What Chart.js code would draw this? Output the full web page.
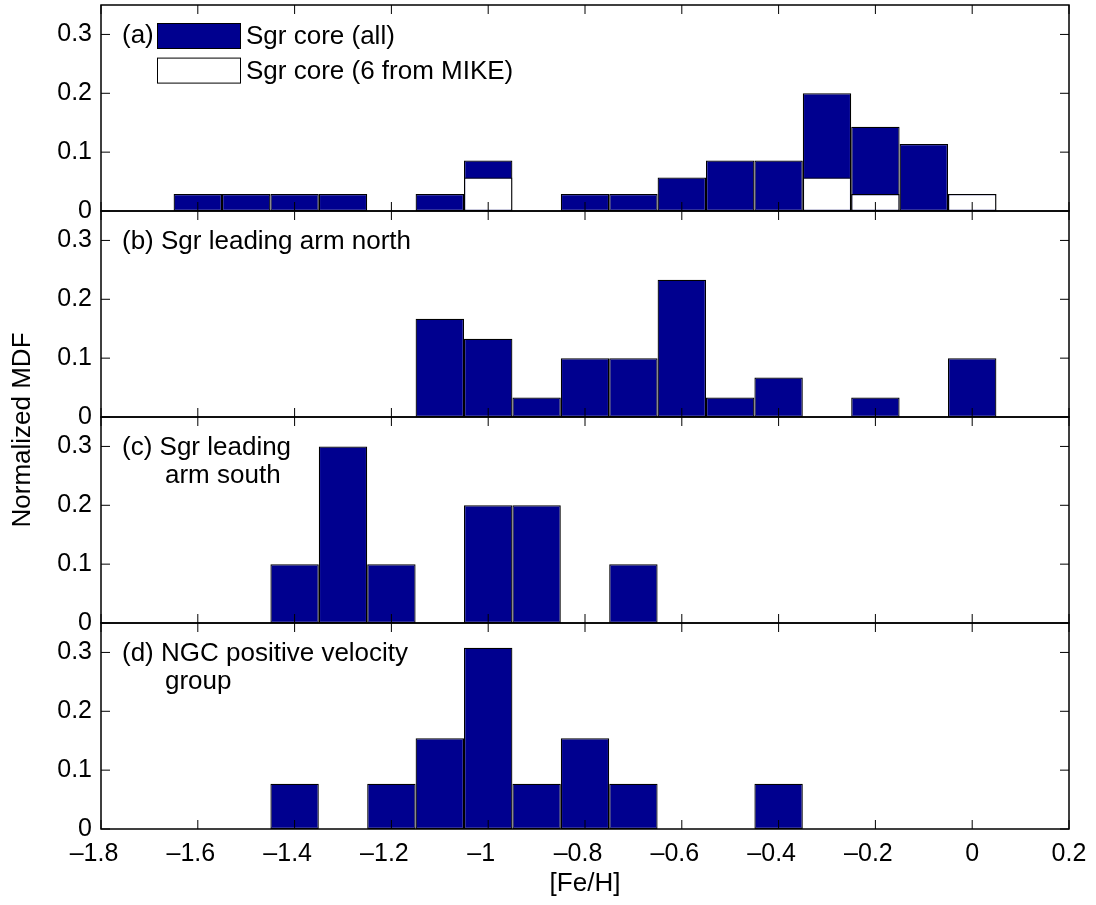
<!DOCTYPE html>
<html>
<head>
<meta charset="utf-8">
<script src="https://cdn.jsdelivr.net/npm/chart.js@4.4.1/dist/chart.umd.min.js"></script>
<style>
  html, body { margin: 0; padding: 0; background: #fff; }
  #wrap { width: 1096px; height: 905px; position: relative; }
</style>
</head>
<body>
<div id="wrap"><canvas id="mdfChart"></canvas></div>
<script>
// bin centres of the [Fe/H] histograms (bins are 0.1 dex wide)
var binCenters = [-1.6, -1.5, -1.4, -1.3, -1.2, -1.1, -1.0, -0.9, -0.8, -0.7, -0.6, -0.5, -0.4, -0.3, -0.2, -0.1, 0.0];

// normalized MDF, one value per bin (null = empty bin)
var coreAll   = [0.029, 0.029, 0.029, 0.029, null, 0.029, 0.086, null, 0.029, 0.029, 0.057, 0.086, 0.086, 0.200, 0.143, 0.114, 0.029];
var coreMike  = [null, null, null, null, null, null, 0.057, null, null, null, null, null, null, 0.057, 0.029, null, 0.029];
var leadNorth = [null, null, null, null, null, 0.167, 0.133, 0.033, 0.100, 0.100, 0.233, 0.033, 0.067, null, 0.033, null, 0.100];
var leadSouth = [null, null, 0.1, 0.3, 0.1, null, 0.2, 0.2, null, 0.1, null, null, null, null, null, null, null];
var ngcPos    = [null, null, 0.077, null, 0.077, 0.154, 0.308, 0.077, 0.154, 0.077, null, null, 0.077, null, null, null, null];

var xTickValues = [-1.8, -1.6, -1.4, -1.2, -1.0, -0.8, -0.6, -0.4, -0.2, 0.0, 0.2];
var yTickValues = [0, 0.1, 0.2, 0.3];

var panelIds = ['yA', 'yB', 'yC', 'yD'];
var panelLabels = [
  ['(a)'],
  ['(b) Sgr leading arm north'],
  ['(c) Sgr leading', 'arm south'],
  ['(d) NGC positive velocity', 'group']
];

var navy = 'rgb(0,0,143)';
var fontFamily = '"Liberation Sans", Arial, Helvetica, sans-serif';

function toPoints(values) {
  return binCenters.map(function (c, i) { return { x: c, y: values[i] }; });
}

function barSet(label, values, axis, color, order) {
  return {
    label: label,
    data: toPoints(values),
    yAxisID: axis,
    backgroundColor: color,
    borderColor: '#000',
    borderWidth: 1.25,
    borderSkipped: false,
    inflateAmount: 0,
    grouped: false,
    categoryPercentage: 1,
    barPercentage: 1,
    order: order
  };
}

function panelAxis(weight) {
  return {
    type: 'linear',
    position: 'left',
    stack: 'panels',
    stackWeight: 1,
    weight: weight,
    min: 0,
    max: 0.35,
    grid: { display: false, drawTicks: false },
    border: { display: false },
    ticks: {
      color: '#000',
      padding: 9,
      font: { family: fontFamily, size: 25 },
      callback: function (v) { return v === 0 ? '0' : v.toFixed(1); }
    },
    afterBuildTicks: function (s) {
      s.ticks = yTickValues.map(function (v) { return { value: v }; });
    },
    afterFit: function (s) {
      s.width = 101;
      s.paddingTop = 0;
      s.paddingBottom = 0;
    }
  };
}

var framePlugin = {
  id: 'frame',
  afterDatasetsDraw: function (chart) {
    var ctx = chart.ctx;
    var area = chart.chartArea;
    var xs = chart.scales.x;
    ctx.save();
    ctx.strokeStyle = '#000';
    ctx.fillStyle = '#000';

    panelIds.forEach(function (id, p) {
      var ys = chart.scales[id];
      ctx.lineWidth = 1;
      ctx.beginPath();
      yTickValues.forEach(function (v) {
        var py = ys.getPixelForValue(v);
        ctx.moveTo(area.left, py); ctx.lineTo(area.left + 9, py);
        ctx.moveTo(area.right, py); ctx.lineTo(area.right - 9, py);
      });
      xTickValues.forEach(function (v) {
        var px = xs.getPixelForValue(v);
        ctx.moveTo(px, ys.bottom); ctx.lineTo(px, ys.bottom - 9);
        ctx.moveTo(px, ys.top); ctx.lineTo(px, ys.top + 9);
      });
      ctx.stroke();
      ctx.lineWidth = 1.5;
      ctx.strokeRect(area.left, ys.top, area.right - area.left, ys.bottom - ys.top);

      // panel caption
      ctx.font = '26px ' + fontFamily;
      ctx.textBaseline = 'middle';
      ctx.textAlign = 'left';
      var ty = ys.getPixelForValue(0.3) + 1;
      panelLabels[p].forEach(function (line, k) {
        ctx.fillText(line, k === 0 ? area.left + 21 : area.left + 64, ty + k * 28);
      });
    });

    // legend of panel (a), drawn inside the axes
    var ya = chart.scales.yA;
    var legendSets = [chart.data.datasets[1], chart.data.datasets[0]];
    legendSets.forEach(function (ds, k) {
      var cy = ya.top + 31 + k * 34.6;
      ctx.fillStyle = ds.backgroundColor;
      ctx.fillRect(area.left + 56, cy - 13, 84, 26);
      ctx.lineWidth = 1;
      ctx.strokeRect(area.left + 56.5, cy - 12.5, 83, 25);
      ctx.fillStyle = '#000';
      ctx.fillText(ds.label, area.left + 145, cy + 1);
    });

    // y axis title
    ctx.save();
    ctx.translate(23, 430);
    ctx.rotate(-Math.PI / 2);
    ctx.textAlign = 'center';
    ctx.fillText('Normalized MDF', 0, 0);
    ctx.restore();

    ctx.restore();
  }
};

new Chart(document.getElementById('mdfChart').getContext('2d'), {
  type: 'bar',
  data: {
    datasets: [
      barSet('Sgr core (6 from MIKE)', coreMike, 'yA', '#fff', 0),
      barSet('Sgr core (all)', coreAll, 'yA', navy, 1),
      barSet('Sgr leading arm north', leadNorth, 'yB', navy, 1),
      barSet('Sgr leading arm south', leadSouth, 'yC', navy, 1),
      barSet('NGC positive velocity group', ngcPos, 'yD', navy, 1)
    ]
  },
  options: {
    responsive: true,
    maintainAspectRatio: false,
    devicePixelRatio: 1,
    animation: false,
    layout: { padding: { left: 0, right: 27, top: 5, bottom: 0 } },
    plugins: { legend: { display: false }, tooltip: { enabled: false } },
    scales: {
      x: {
        type: 'linear',
        position: 'bottom',
        min: -1.8,
        max: 0.2,
        offset: false,
        grid: { display: false, drawTicks: false, offset: false },
        border: { display: false },
        ticks: {
          color: '#000',
          padding: 10,
          maxRotation: 0,
          autoSkip: false,
          font: { family: fontFamily, size: 25 },
          callback: function (v) {
            var r = Math.round(v * 10) / 10;
            var s = String(Math.abs(r));
            return r < 0 ? '\u2013' + s + '\u2007' : s;
          }
        },
        afterBuildTicks: function (s) {
          s.ticks = xTickValues.map(function (v) { return { value: v }; });
        },
        title: {
          display: true,
          text: '[Fe/H]',
          color: '#000',
          font: { family: fontFamily, size: 26 },
          padding: { top: 0, bottom: 6 }
        },
        afterFit: function (s) {
          s.height = 76;
          s.paddingLeft = 0;
          s.paddingRight = 0;
        }
      },
      yA: panelAxis(4),
      yB: panelAxis(3),
      yC: panelAxis(2),
      yD: panelAxis(1)
    }
  },
  plugins: [framePlugin]
});
</script>
</body>
</html>
